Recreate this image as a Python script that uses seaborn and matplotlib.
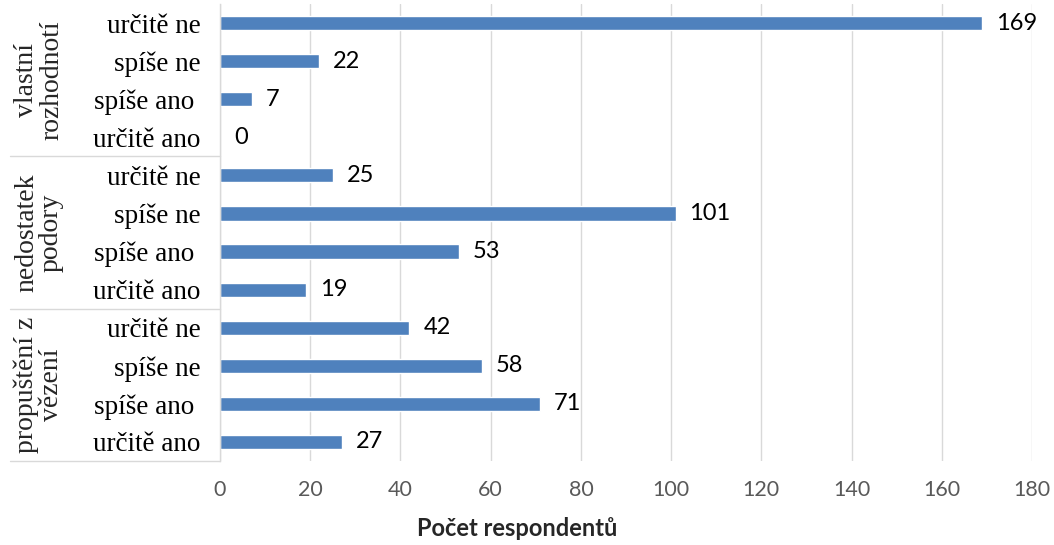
import matplotlib
matplotlib.use("Agg")
import matplotlib.pyplot as plt
import matplotlib.transforms as mtransforms
import seaborn as sns
import pandas as pd

groups = ["vlastní\nrozhodnotí", "nedostatek\npodory", "propuštění z\nvězení"]
answers = ["určitě ne", "spíše ne", "spíše ano ", "určitě ano"]
values_vlastni = [169, 22, 7, 0]
values_podpora = [25, 101, 53, 19]
values_vezeni = [42, 58, 71, 27]
xticks = [0, 20, 40, 60, 80, 100, 120, 140, 160, 180]
xlabel = "Počet respondentů"

all_vals = [values_vlastni, values_podpora, values_vezeni]
rows, labels, vals = [], [], []
for gi, g in enumerate(groups):
    for ai, a in enumerate(answers):
        rows.append(f"{gi}-{ai}")
        labels.append(a)
        vals.append(all_vals[gi][ai])
df = pd.DataFrame({"row": rows, "value": vals})

sns.set_theme(style="white")
fig = plt.figure(figsize=(10.54, 5.45), dpi=100)
ax = fig.add_axes([220/1054, 1-461/545, (1032-220)/1054, (461-4)/545])

sns.barplot(data=df, x="value", y="row", order=rows, orient="h",
            color="#4F81BD", saturation=1, width=0.37, ax=ax)

ax.set_xlim(0, 180)
ax.set_ylim(11.5, -0.5)
ax.set_xticks(xticks)
ax.set_xticklabels([str(t) for t in xticks], fontsize=15.5, color="#595959",
                   family="Lato")
ax.tick_params(axis="x", length=0, pad=14)
ax.set_yticks(range(len(rows)))
ax.set_yticklabels(labels, fontsize=19.5, family="Liberation Serif", color="black")
ax.tick_params(axis="y", length=0, pad=14)
ax.set_ylabel("")
ax.set_xlabel(xlabel, fontsize=17, fontweight="bold", family="Lato")
ax.xaxis.set_label_coords((517 - 220) / 812, (461 - 528) / 457)
ax.xaxis.label.set_va("center")

ax.grid(axis="x", color="#D9D9D9", linewidth=1)
ax.set_axisbelow(True)
for s in ["top", "right", "bottom"]:
    ax.spines[s].set_visible(False)
ax.spines["left"].set_color("#D9D9D9")
ax.spines["left"].set_linewidth(1)

# value labels
for i, v in enumerate(vals):
    ax.annotate(str(v), (v, i), xytext=(10, 0), textcoords="offset points",
                va="center", ha="left", fontsize=17, family="Lato", color="black")

# group separators and labels
trans = mtransforms.blended_transform_factory(ax.transAxes, ax.transData)
x_left = (10 - 220) / (1032 - 220)
for yb in [3.5, 7.5, 11.5]:
    ax.plot([x_left, 0], [yb, yb], transform=trans, color="#D9D9D9",
            linewidth=1, clip_on=False)
x_grp = (39 - 220) / (1032 - 220)
for gi, g in enumerate(groups):
    ax.text(x_grp, gi * 4 + 1.5, g, transform=trans, rotation=90,
            ha="center", va="center", fontsize=20, family="Liberation Serif",
            linespacing=1.0, multialignment="center")

fig.savefig("out.png", dpi=100)
